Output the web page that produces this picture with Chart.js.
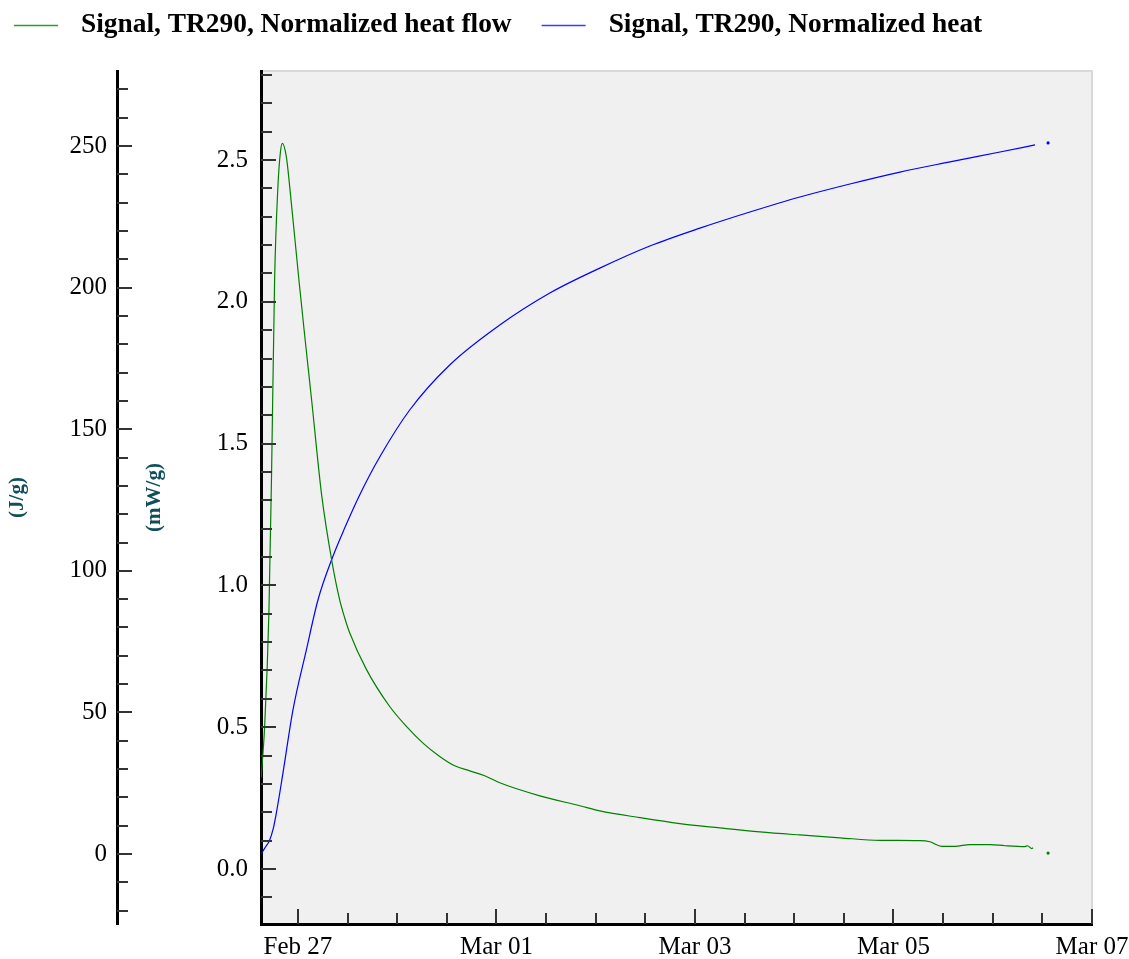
<!DOCTYPE html>
<html>
<head>
<meta charset="utf-8">
<title>TR290 heat flow</title>
<script src="https://cdn.jsdelivr.net/npm/chart.js@4.4.1/dist/chart.umd.min.js"></script>
<style>
  html, body { margin: 0; padding: 0; background: #fff; }
  #wrap { width: 1129px; height: 959px; }
</style>
</head>
<body>
<div id="wrap"><canvas id="heatChart" width="1129" height="959"></canvas></div>
<script>
// time is hours from Feb 27 00:00
var flowHours = [-8.9, -8.06, -7.02, -6.36, -5.64, -4.84, -4.26, -3.77, -2.81, -1.60,
  0.24, 1.62, 3.31, 5.73, 8.15, 10.09, 11.30, 12.51, 16.55, 22.19,
  26.23, 30.24, 34.28, 37.91, 41.54, 45.17, 48.80, 58.48, 68.15, 72.99,
  82.67, 92.34, 102.02, 111.70, 121.37, 131.05, 140.73, 150.40, 152.82, 155.66,
  158.88, 162.51, 167.35, 170.98, 175.82, 176.42, 177.44, 177.75, 179.5, 181.38];
// mW/g
var flowValues = [0.322, 0.501, 0.903, 1.408, 2.077, 2.406, 2.525, 2.559, 2.512, 2.349,
  2.077, 1.883, 1.654, 1.319, 1.090, 0.949, 0.886, 0.833, 0.704, 0.573,
  0.503, 0.444, 0.397, 0.364, 0.346, 0.329, 0.304, 0.258, 0.223, 0.205,
  0.181, 0.160, 0.145, 0.131, 0.120, 0.110, 0.101, 0.100, 0.096, 0.080,
  0.080, 0.086, 0.086, 0.082, 0.079, 0.082, 0.072, 0.075, null, 0.056];

var heatHours = [-8.9, -8.06, -6.85, -6.05, -5.23, -3.63, -1.21, 2.03, 4.84, 8.40,
  11.30, 14.93, 19.77, 27.02, 36.70, 48.80, 60.90, 72.99, 85.09, 97.19,
  109.28, 121.37, 133.47, 145.57, 157.66, 169.76, 178.23, 180.0, 181.38];
// J/g
var heatValues = [0, 2.0, 4.9, 8.5, 14.4, 28.5, 50.8, 72.0, 89.7, 104.9,
  115.1, 126.8, 140.2, 156.8, 172.7, 186.8, 198.1, 206.9, 214.7, 221.0,
  226.7, 232.0, 236.6, 240.8, 244.4, 247.9, 250.4, null, 251.1];

var dateTickHours = [0, 48, 96, 144, 192];
var dateTickLabels = ['Feb 27', 'Mar 01', 'Mar 03', 'Mar 05', 'Mar 07'];

var xRange = [-8.93, 192];
var flowRange = [-0.194, 2.814];
var heatRange = [-24.7, 276.5];

var serif = '"Liberation Serif", "DejaVu Serif", serif';
var majorEvery = { x: 4, y: 5, y2: 5 };
var legendLineColors = ['#2ca02c', '#3a3aff'];

function toPoints(hours, values) {
  return hours.map(function (h, i) { return { x: h, y: values[i] }; });
}

function lastDot(ctx) {
  return ctx.dataIndex === ctx.dataset.data.length - 1 ? 1.6 : 0;
}

// ticks on every multiple of the step inside the range, no extra bound ticks
function stepTicks(s) {
  var step = s.options.ticks.stepSize, out = [];
  for (var n = Math.ceil(s.min / step - 1e-9); n * step <= s.max + 1e-9; n++) {
    out.push({ value: Math.round(n * step * 1000) / 1000 });
  }
  s.ticks = out;
}

function noOverhang(s) {
  s.paddingLeft = 0;
  s.paddingRight = 0;
  s.paddingTop = 0;
  s.paddingBottom = 0;
}

// grey plot box with light top/right edge
var plotBackground = {
  id: 'plotBackground',
  beforeDraw: function (chart) {
    var a = chart.chartArea, ctx = chart.ctx;
    ctx.save();
    ctx.fillStyle = '#f0f0f0';
    ctx.fillRect(a.left, a.top, a.right - a.left, a.bottom - a.top);
    ctx.strokeStyle = '#d9d9d9';
    ctx.lineWidth = 2;
    ctx.beginPath();
    ctx.moveTo(a.left, a.top);
    ctx.lineTo(a.right, a.top);
    ctx.lineTo(a.right, a.bottom);
    ctx.stroke();
    ctx.restore();
  }
};

// tick marks pointing inward from each axis line
var inwardTicks = {
  id: 'inwardTicks',
  afterDraw: function (chart) {
    var ctx = chart.ctx;
    ctx.save();
    ctx.strokeStyle = '#333';
    ctx.lineWidth = 2;
    ['x', 'y', 'y2'].forEach(function (id) {
      var s = chart.scales[id];
      var step = s.options.ticks.stepSize;
      s.ticks.forEach(function (t) {
        var n = Math.round(t.value / step);
        var len = n % majorEvery[id] === 0 ? 15 : 11;
        var p = Math.round(s.getPixelForValue(t.value));
        ctx.beginPath();
        if (id === 'x') {
          ctx.moveTo(p, s.top);
          ctx.lineTo(p, s.top - len);
        } else {
          ctx.moveTo(s.right, p);
          ctx.lineTo(s.right + len, p);
        }
        ctx.stroke();
      });
    });
    ctx.restore();
  }
};

var topLegend = {
  id: 'topLegend',
  afterDraw: function (chart) {
    var ctx = chart.ctx, x = 14;
    ctx.save();
    ctx.font = 'bold 27.4px ' + serif;
    ctx.textBaseline = 'alphabetic';
    chart.data.datasets.forEach(function (ds, i) {
      ctx.strokeStyle = legendLineColors[i];
      ctx.lineWidth = 1.5;
      ctx.beginPath();
      ctx.moveTo(x, 25.5);
      ctx.lineTo(x + 44, 25.5);
      ctx.stroke();
      ctx.fillStyle = '#000';
      ctx.fillText(ds.label, x + 67, 32);
      x += 67 + ctx.measureText(ds.label).width + 30;
    });
    ctx.restore();
  }
};

Chart.defaults.color = '#000';

var ctxH = document.getElementById('heatChart').getContext('2d');
var heatChart = new Chart(ctxH, {
  type: 'line',
  data: {
    datasets: [{
      label: 'Signal, TR290, Normalized heat flow',
      data: toPoints(flowHours, flowValues),
      yAxisID: 'y',
      borderColor: '#008000',
      backgroundColor: '#008000',
      borderWidth: 1.2,
      pointRadius: lastDot,
      pointBorderWidth: 0,
      cubicInterpolationMode: 'monotone'
    }, {
      label: 'Signal, TR290, Normalized heat',
      data: toPoints(heatHours, heatValues),
      yAxisID: 'y2',
      borderColor: '#0000ff',
      backgroundColor: '#0000ff',
      borderWidth: 1.2,
      pointRadius: lastDot,
      pointBorderWidth: 0,
      cubicInterpolationMode: 'monotone'
    }]
  },
  options: {
    responsive: false,
    animation: false,
    layout: { padding: { top: 71, right: 37, bottom: 0, left: 0 } },
    plugins: {
      legend: { display: false },
      tooltip: { enabled: false }
    },
    scales: {
      x: {
        type: 'linear',
        position: 'bottom',
        min: xRange[0],
        max: xRange[1],
        afterBuildTicks: stepTicks,
        afterFit: function (s) { s.height = 35; noOverhang(s); },
        grid: { display: false, drawTicks: false },
        border: { display: true, color: '#000', width: 3 },
        ticks: {
          stepSize: 12,
          autoSkip: false,
          maxRotation: 0,
          padding: 8,
          font: { family: serif, size: 25 },
          callback: function (v) {
            var i = dateTickHours.indexOf(v);
            return i >= 0 ? dateTickLabels[i] : '';
          }
        }
      },
      y: {
        type: 'linear',
        position: 'left',
        weight: 0,
        min: flowRange[0],
        max: flowRange[1],
        afterBuildTicks: stepTicks,
        afterFit: function (s) { s.width = 144; noOverhang(s); },
        grid: { display: false, drawTicks: false },
        border: { display: true, color: '#000', width: 3 },
        title: {
          display: true,
          text: '(mW/g)',
          color: '#104e5b',
          font: { family: serif, size: 21, weight: 'bold' },
          padding: { top: 25, bottom: 0 }
        },
        ticks: {
          stepSize: 0.1,
          autoSkip: false,
          padding: 13,
          font: { family: serif, size: 25 },
          callback: function (v) {
            var n = Math.round(v * 10);
            return n % 5 === 0 ? (n / 10).toFixed(1) : '';
          }
        }
      },
      y2: {
        type: 'linear',
        position: 'left',
        weight: 1,
        min: heatRange[0],
        max: heatRange[1],
        afterBuildTicks: stepTicks,
        afterFit: function (s) { s.width = 117; noOverhang(s); },
        grid: { display: false, drawTicks: false },
        border: { display: true, color: '#000', width: 3 },
        title: {
          display: true,
          text: '(J/g)',
          color: '#104e5b',
          font: { family: serif, size: 21, weight: 'bold' },
          padding: { top: 5, bottom: 0 }
        },
        ticks: {
          stepSize: 10,
          autoSkip: false,
          padding: 10,
          font: { family: serif, size: 25 },
          callback: function (v) {
            var n = Math.round(v);
            return n % 50 === 0 ? String(n) : '';
          }
        }
      }
    }
  },
  plugins: [plotBackground, inwardTicks, topLegend]
});
</script>
</body>
</html>
